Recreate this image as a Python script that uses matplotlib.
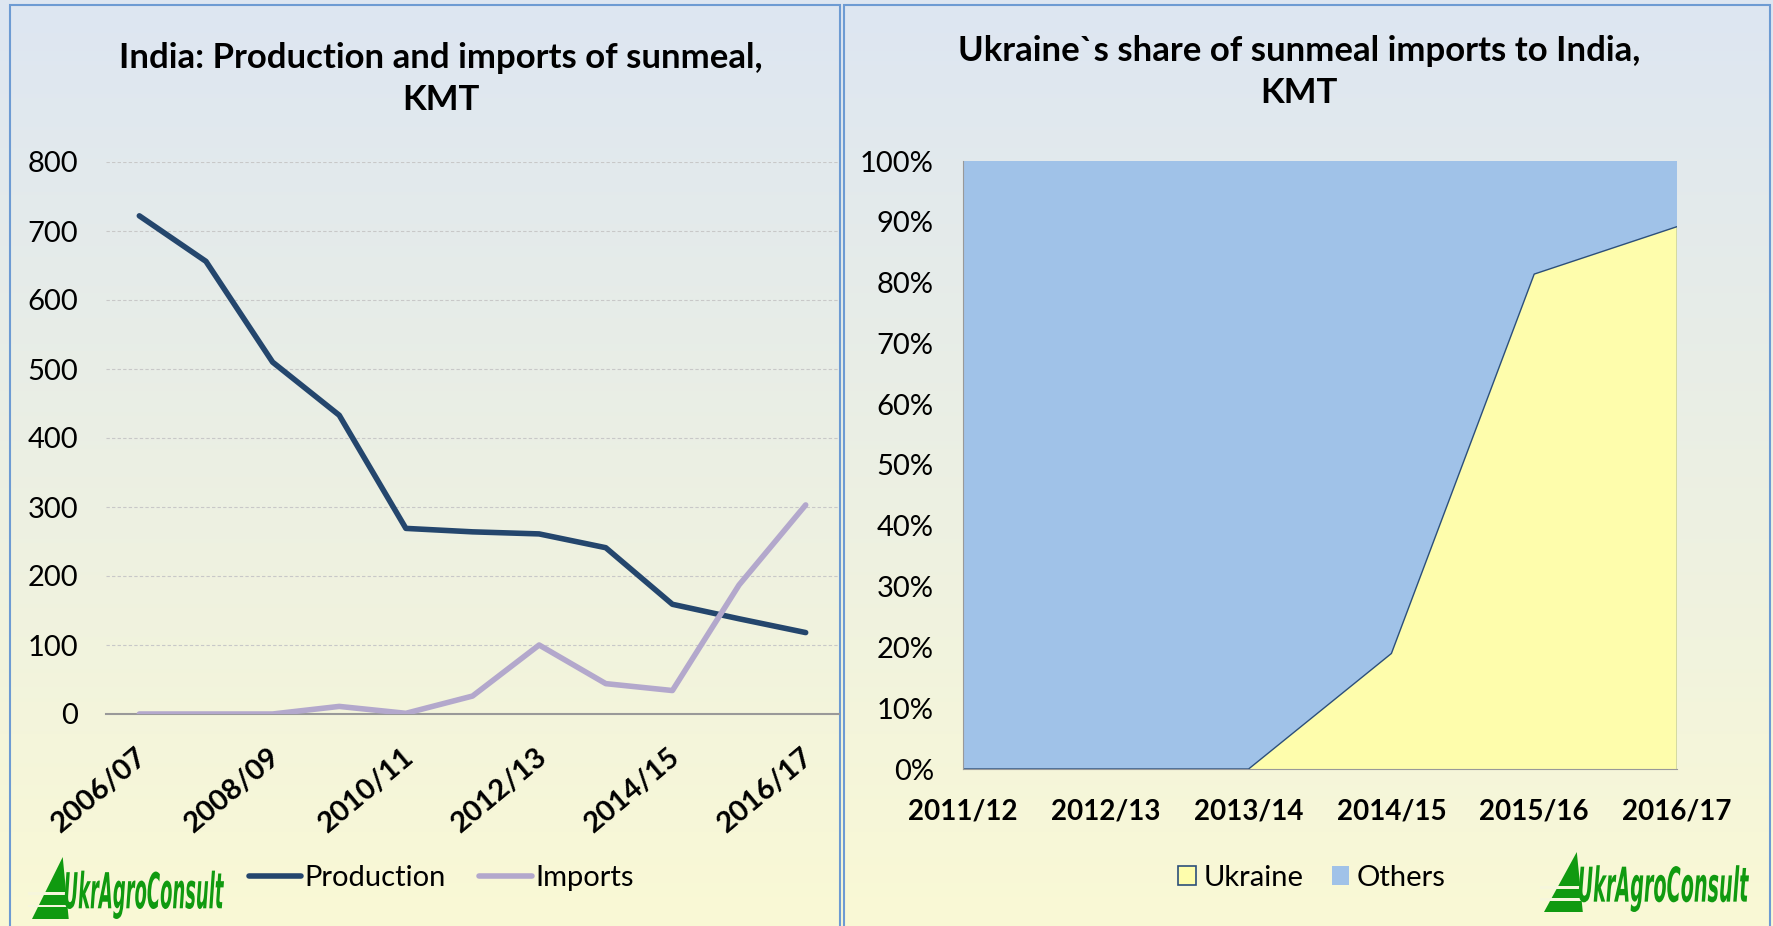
import numpy as np
import matplotlib
matplotlib.use("Agg")
import matplotlib.pyplot as plt
from matplotlib.patches import Rectangle, Polygon, PathPatch
from matplotlib.textpath import TextPath
from matplotlib.font_manager import FontProperties
from matplotlib.transforms import Affine2D, ScaledTranslation

# ---------------- data ----------------
seasons_left = ["2006/07", "2007/08", "2008/09", "2009/10", "2010/11", "2011/12",
                "2012/13", "2013/14", "2014/15", "2015/16", "2016/17"]
production = [722, 656, 510, 433, 269, 264, 261, 241, 159, 138, 118]
imports = [0, 0, 0, 11, 1, 26, 100, 44, 34, 187, 303]
left_yticks = [0, 100, 200, 300, 400, 500, 600, 700, 800]

seasons_right = ["2011/12", "2012/13", "2013/14", "2014/15", "2015/16", "2016/17"]
ukraine_share = [0.0, 0.0, 0.0, 0.19, 0.814, 0.892]
others_share = [1 - v for v in ukraine_share]
right_yticks = [0, 0.1, 0.2, 0.3, 0.4, 0.5, 0.6, 0.7, 0.8, 0.9, 1.0]

title_left = "India: Production and imports of sunmeal,\nKMT"
title_right = "Ukraine`s share of sunmeal imports to India,\nKMT"

# ---------------- styling ----------------
W, H = 1774, 926
FONT = "Lato"
plt.rcParams['font.family'] = [FONT, 'DejaVu Sans']
C_PROD = "#24466d"
C_IMP = "#b3a8cc"
C_UKR = "#fefdac"
C_OTH = "#a0c2e8"
C_EDGE = "#2c4f7a"
C_GREEN = "#109a10"
TICK_FS = 21
XT_FS = 20
TITLE_FS = 25

fig = plt.figure(figsize=(W / 100, H / 100), dpi=100)

# background gradient
bg = fig.add_axes([0, 0, 1, 1], zorder=-10)
top = np.array([0.867, 0.902, 0.949])
bot = np.array([0.980, 0.976, 0.835])
t = np.linspace(0, 1, 256)[:, None]
grad = top[None, :] * (1 - t) + bot[None, :] * t
bg.imshow(grad[:, None, :], aspect="auto", extent=[0, 1, 0, 1])
bg.set_xlim(0, 1); bg.set_ylim(0, 1); bg.axis("off")

def fx(px):
    return px / W

def fy(py):
    return 1 - py / H

# panel borders
for x0, x1 in [(10, 840), (844, 1770)]:
    fig.add_artist(Rectangle((fx(x0), fy(930)), fx(x1 - x0), (930 - 5) / H,
                             transform=fig.transFigure, fill=False,
                             edgecolor="#6d9bd3", linewidth=1.5, zorder=-5))

# ---------------- left chart ----------------
axL = fig.add_axes([fx(106), fy(714), fx(839 - 106), (714 - 162) / H])
axL.patch.set_alpha(0)
xL = np.arange(len(seasons_left))
axL.plot(xL, production, color=C_PROD, lw=4.0, solid_capstyle="round",
         solid_joinstyle="round", label="Production", zorder=3)
axL.plot(xL, imports, color=C_IMP, lw=4.0, solid_capstyle="round",
         solid_joinstyle="round", label="Imports", zorder=3)
axL.set_xlim(-0.5, len(seasons_left) - 0.5)
axL.set_ylim(0, 800)
axL.set_yticks(left_yticks)
axL.set_yticklabels([str(v) for v in left_yticks], fontsize=TICK_FS)
axL.set_xticks(xL[::2])
axL.set_xticklabels(seasons_left[::2], fontsize=21, fontweight="bold",
                    rotation=40, ha="right", va="top", rotation_mode="anchor")
axL.tick_params(axis="both", length=0)
axL.tick_params(axis="y", pad=20)
axL.tick_params(axis="x", pad=21)
shift = ScaledTranslation(-4 / 100, 0, fig.dpi_scale_trans)
for lab in axL.get_xticklabels():
    lab.set_transform(lab.get_transform() + shift)
for s in ["top", "right", "left"]:
    axL.spines[s].set_visible(False)
axL.spines["bottom"].set_color("#999999")
axL.spines["bottom"].set_linewidth(1.5)
axL.grid(axis="y", color="#c8c8c8", linestyle=(0, (3, 2)), linewidth=0.8)
axL.set_axisbelow(True)
fig.text(fx(441), fy(79), title_left, ha="center", va="center",
         fontsize=TITLE_FS, fontweight="bold", linespacing=1.38)
axL.legend(loc="center", bbox_to_anchor=(fx(441), fy(878)),
           bbox_transform=fig.transFigure, ncol=2, frameon=False,
           fontsize=TICK_FS, handlelength=1.8, handletextpad=0.1,
           columnspacing=1.17)

# ---------------- right chart ----------------
axR = fig.add_axes([fx(963), fy(769), fx(1677 - 963), (769 - 161) / H])
axR.patch.set_alpha(0)
xR = np.arange(len(seasons_right))
axR.stackplot(xR, ukraine_share, others_share, colors=[C_UKR, C_OTH],
              labels=["Ukraine", "Others"], linewidth=0)
axR.plot(xR, ukraine_share, color=C_EDGE, lw=1.0)
axR.plot([xR[-1], xR[-1]], [0, ukraine_share[-1]], color=C_EDGE, lw=1.0)
axR.set_xlim(0, len(seasons_right) - 1)
axR.set_ylim(0, 1)
axR.set_yticks(right_yticks)
axR.set_yticklabels([f"{int(round(v * 100))}%" for v in right_yticks], fontsize=TICK_FS)
axR.set_xticks(xR)
axR.set_xticklabels(seasons_right, fontsize=XT_FS, fontweight="bold")
axR.tick_params(axis="both", length=0)
axR.tick_params(axis="y", pad=21)
axR.tick_params(axis="x", pad=21)
for s in ["top", "right"]:
    axR.spines[s].set_visible(False)
axR.spines["left"].set_color("#999999")
axR.spines["bottom"].set_color("#999999")
fig.text(fx(1299), fy(72), title_right, ha="center", va="center",
         fontsize=TITLE_FS, fontweight="bold", linespacing=1.36)
handles = [Rectangle((0, 0), 1, 1, facecolor=C_UKR, edgecolor=C_EDGE, linewidth=1.2),
           Rectangle((0, 0), 1, 1, facecolor=C_OTH, edgecolor="none")]
axR.legend(handles, ["Ukraine", "Others"], loc="center",
           bbox_to_anchor=(fx(1312), fy(878)), bbox_transform=fig.transFigure,
           ncol=2, frameon=False, fontsize=TICK_FS, handlelength=0.6,
           handleheight=0.62, handletextpad=0.27, columnspacing=0.97)

# ---------------- logos ----------------
tp = TextPath((0, 0), "UkrAgroConsult", size=100,
              prop=FontProperties(family="DejaVu Sans", weight="bold", style="italic"))
ext = tp.get_extents()

def logo(x0, x1, ytop, ybot):
    ax_ = x0 + 0.16 * (x1 - x0)
    tri = Polygon([(fx(ax_), fy(ytop)), (fx(x0), fy(ybot)), (fx(ax_ + 6), fy(ybot))],
                  closed=True, transform=fig.transFigure, facecolor=C_GREEN,
                  edgecolor="none")
    fig.add_artist(tri)
    for yy in [ybot - 0.42 * (ybot - ytop), ybot - 0.22 * (ybot - ytop)]:
        fig.add_artist(Rectangle((fx(x0 - 4), fy(yy + 2)), fx(ax_ + 8 - x0), 2.5 / H,
                                 transform=fig.transFigure, facecolor="#f6f6dc",
                                 edgecolor="none"))
    tx0 = ax_ + 2
    ty_top = ytop + 0.22 * (ybot - ytop)
    tr = (Affine2D().translate(-ext.x0, -ext.y0)
          .scale(fx(x1 - tx0) / ext.width, ((ybot - ty_top) / H) / ext.height)
          .translate(fx(tx0), fy(ybot)))
    fig.add_artist(PathPatch(tp, transform=tr + fig.transFigure,
                             facecolor=C_GREEN, edgecolor="none"))

logo(32, 224, 857, 919)
logo(1544, 1749, 852, 912)

fig.savefig("out.png", dpi=100)
